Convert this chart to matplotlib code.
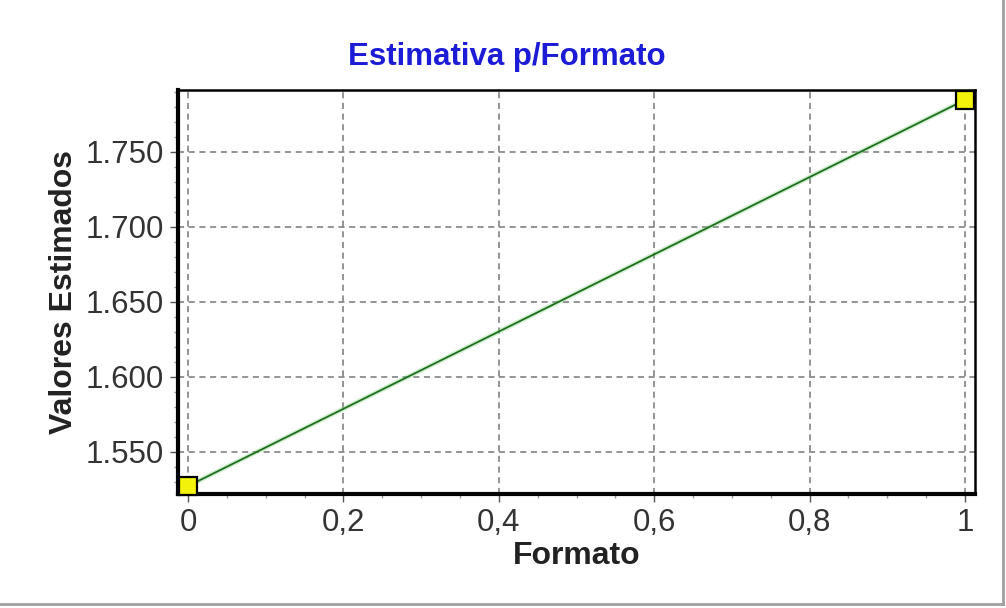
import matplotlib
matplotlib.use("Agg")
import matplotlib.pyplot as plt
from matplotlib.ticker import MultipleLocator

plt.rcParams['font.family'] = ['Liberation Sans', 'DejaVu Sans']

formato = [0, 1]
valores = [1.5273, 1.7847]
x_ticks = [0, 0.2, 0.4, 0.6, 0.8, 1.0]
x_tick_labels = ["0", "0,2", "0,4", "0,6", "0,8", "1"]
y_ticks = [1.55, 1.60, 1.65, 1.70, 1.75]
y_tick_labels = ["1.550", "1.600", "1.650", "1.700", "1.750"]

W, H = 1006, 608
fig = plt.figure(figsize=(W / 100, H / 100), dpi=100)
ax = fig.add_axes([178 / W, 1 - 494 / H, (975 - 178) / W, (494 - 90) / H])

ax.plot(formato, valores, color='#7ed27e', lw=3.5, alpha=0.35, zorder=3)
ax.plot(formato, valores, color='#1e6e1e', lw=1.3, zorder=4)
ax.plot(formato, valores, ls='none', marker='s', ms=12.5, mfc='#f2f20a',
        mec='black', mew=1.6, zorder=5, clip_on=False)

ax.set_xlim(-0.0129, 1.0129)
ax.set_ylim(1.5220, 1.7913)
ax.set_xticks(x_ticks)
ax.set_xticklabels(x_tick_labels)
ax.set_yticks(y_ticks)
ax.set_yticklabels(y_tick_labels)
ax.xaxis.set_minor_locator(MultipleLocator(0.05))
ax.yaxis.set_minor_locator(MultipleLocator(0.01))

ax.grid(True, which='major', color='#777777', ls=(0, (4, 3)), lw=1.1)
ax.tick_params(which='major', direction='out', length=6, width=1, color='#555555',
               labelsize=22.5, labelcolor='#333333', pad=4)
ax.tick_params(which='minor', direction='out', length=3, width=1, color='#999999')

for s in ['left', 'bottom']:
    ax.spines[s].set_linewidth(3)
for s in ['top', 'right']:
    ax.spines[s].set_linewidth(1.8)
for s in ax.spines.values():
    s.set_color('black')

ax.set_xlabel('Formato', fontsize=23, fontweight='bold', color='#222222', labelpad=2)
ax.set_ylabel('Valores Estimados', fontsize=23, fontweight='bold', color='#222222', labelpad=5)

fig.text(507 / W, 1 - 57 / H, 'Estimativa p/Formato', fontsize=22.5, fontweight='bold',
         color='#1c1cd6', ha='center', va='center')

# figure frame lines (right and bottom)
fig.add_artist(plt.Line2D([1003 / W, 1003 / W], [1 - 604 / H, 1], color='#a0a0a0', lw=2,
                          transform=fig.transFigure))
fig.add_artist(plt.Line2D([0, 1003 / W], [1 - 604 / H, 1 - 604 / H], color='#a0a0a0', lw=2,
                          transform=fig.transFigure))

fig.savefig('out.png', dpi=100)
